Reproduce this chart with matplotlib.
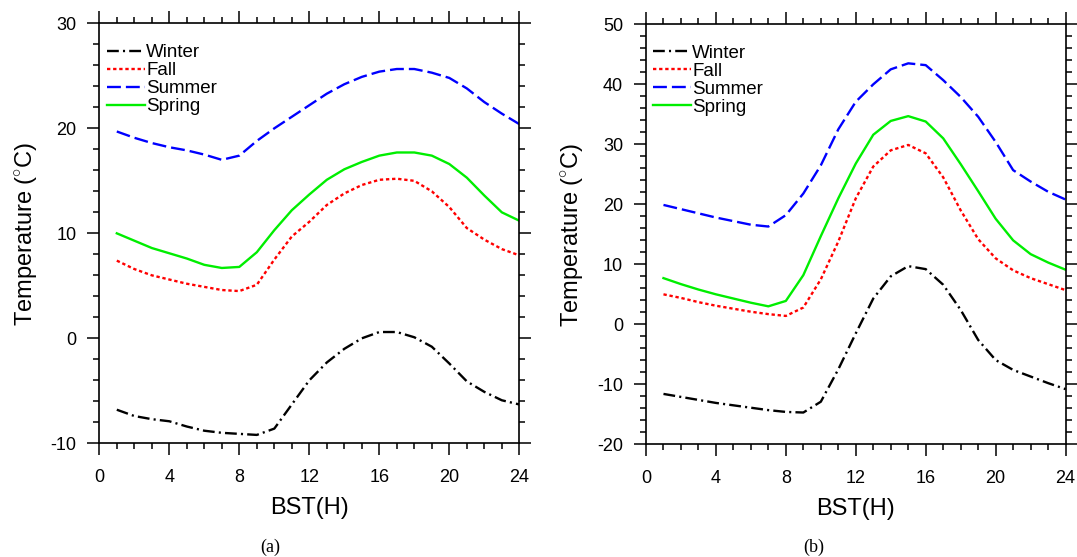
import matplotlib.pyplot as plt
from matplotlib.ticker import MultipleLocator

plt.rcParams['font.family'] = ['Liberation Sans', 'DejaVu Sans']
plt.rcParams['lines.scale_dashes'] = False
plt.rcParams['axes.unicode_minus'] = False
plt.rcParams['mathtext.fontset'] = 'custom'
plt.rcParams['mathtext.rm'] = 'Liberation Sans'

hours = list(range(1, 25))
seasons = ["Winter", "Fall", "Summer", "Spring"]

# panel (a)
winter_a = [-6.8, -7.4, -7.7, -7.9, -8.4, -8.8, -9.0, -9.1, -9.2, -8.6, -6.3, -4.0,
            -2.3, -1.0, 0.0, 0.6, 0.6, 0.1, -0.8, -2.4, -4.1, -5.1, -5.9, -6.3]
fall_a = [7.4, 6.6, 6.0, 5.6, 5.2, 4.9, 4.6, 4.5, 5.1, 7.5, 9.7, 11.1,
          12.7, 13.8, 14.6, 15.1, 15.2, 15.0, 14.0, 12.5, 10.5, 9.4, 8.5, 7.9]
summer_a = [19.7, 19.1, 18.6, 18.2, 17.9, 17.5, 17.0, 17.4, 18.8, 20.0, 21.1, 22.2,
            23.3, 24.2, 24.9, 25.4, 25.65, 25.65, 25.3, 24.8, 23.8, 22.5, 21.4, 20.4]
spring_a = [10.0, 9.3, 8.6, 8.1, 7.6, 7.0, 6.7, 6.8, 8.2, 10.3, 12.2, 13.7,
            15.1, 16.1, 16.8, 17.4, 17.7, 17.7, 17.4, 16.6, 15.3, 13.6, 12.0, 11.2]

# panel (b)
winter_b = [-11.6, -12.1, -12.6, -13.1, -13.5, -13.9, -14.3, -14.6, -14.7, -12.9, -7.5, -1.5,
            4.3, 8.0, 9.7, 9.2, 6.6, 2.4, -2.6, -5.95, -7.6, -8.7, -9.8, -10.8]
fall_b = [5.0, 4.4, 3.7, 3.1, 2.6, 2.1, 1.7, 1.4, 2.8, 7.5, 13.8, 21.0,
          26.3, 29.0, 29.9, 28.5, 24.5, 19.0, 14.2, 11.0, 9.0, 7.7, 6.7, 5.7]
summer_b = [19.9, 19.2, 18.5, 17.8, 17.2, 16.6, 16.3, 18.2, 21.8, 26.5, 32.5, 37.1,
            40.0, 42.5, 43.5, 43.2, 40.7, 37.9, 34.6, 30.4, 25.7, 23.8, 22.1, 20.8]
spring_b = [7.7, 6.7, 5.8, 5.0, 4.3, 3.6, 3.0, 3.9, 8.2, 14.7, 21.0, 26.8,
            31.6, 33.9, 34.7, 33.8, 31.0, 26.7, 22.2, 17.6, 14.0, 11.7, 10.3, 9.1]

styles = {
    "Winter": dict(color="black", dashes=(8.5, 3, 1.5, 3)),
    "Fall": dict(color="#ff0000", dashes=(2.4, 2.0)),
    "Summer": dict(color="#0000ff", dashes=(10, 3.6)),
    "Spring": dict(color="#00ee00", linestyle="-"),
}


def draw_panel(ax, series, ylim, ymajor, yminor, leg_x, leg_y):
    for name, vals in zip(seasons, series):
        ax.plot(hours, vals, linewidth=1.7, label=name, **styles[name])
    ax.set_xlim(0, 24)
    ax.set_ylim(*ylim)
    ax.xaxis.set_major_locator(MultipleLocator(4))
    ax.xaxis.set_minor_locator(MultipleLocator(1))
    ax.yaxis.set_major_locator(MultipleLocator(ymajor))
    ax.yaxis.set_minor_locator(MultipleLocator(yminor))
    ax.tick_params(which="both", direction="out", top=True, right=True,
                   width=1.1, labelsize=13)
    ax.tick_params(which="major", length=8.5)
    ax.tick_params(axis="x", which="major", pad=10)
    ax.tick_params(axis="y", which="major", pad=8)
    ax.tick_params(which="minor", length=4)
    for s in ax.spines.values():
        s.set_linewidth(1.2)
    ax.set_xlabel("BST(H)", fontsize=17, labelpad=8)
    ax.set_ylabel(r"Temperature ($^{\circ}$C)", fontsize=17, labelpad=7)
    ax.legend(loc="upper left", bbox_to_anchor=(leg_x, leg_y), frameon=False,
              fontsize=13.5, handlelength=2.05, handletextpad=0.05,
              labelspacing=0.04, borderpad=0, borderaxespad=0)


fig = plt.figure(figsize=(10.77, 5.57), dpi=100)
ax1 = fig.add_axes([0.0922, 0.2041, 0.390, 0.754])
ax2 = fig.add_axes([0.5998, 0.2023, 0.3896, 0.754])

draw_panel(ax1, [winter_a, fall_a, summer_a, spring_a], (-10, 30), 10, 2, 0.0176, 0.950)
draw_panel(ax2, [winter_b, fall_b, summer_b, spring_b], (-20, 50), 10, 2, 0.016, 0.951)

fig.text(0.251, 0.018, "(a)", ha="center", va="center", fontsize=13, family="Liberation Serif")
fig.text(0.756, 0.018, "(b)", ha="center", va="center", fontsize=13, family="Liberation Serif")

fig.savefig("out.png", dpi=100)
